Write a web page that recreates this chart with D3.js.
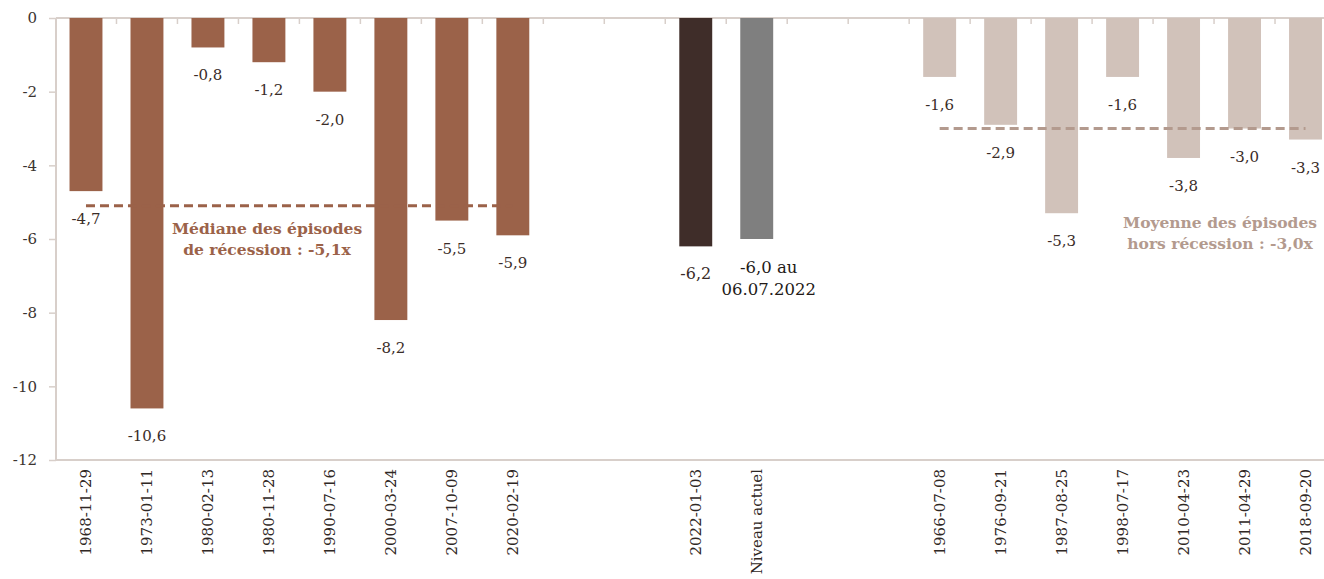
<!DOCTYPE html>
<html>
<head>
<meta charset="utf-8">
<script src="https://cdn.jsdelivr.net/npm/d3@7"></script>
<style>
  body { margin: 0; background: #fff; }
</style>
</head>
<body>
<div id="chart"></div>
<script>
// episodes de recession
var recessionDates = ["1968-11-29", "1973-01-11", "1980-02-13", "1980-11-28", "1990-07-16", "2000-03-24", "2007-10-09", "2020-02-19"];
var recessionValues = [-4.7, -10.6, -0.8, -1.2, -2.0, -8.2, -5.5, -5.9];

// episode actuel
var currentLabels = ["2022-01-03", "Niveau actuel"];
var currentValues = [-6.2, -6.0];

// episodes hors recession
var otherDates = ["1966-07-08", "1976-09-21", "1987-08-25", "1998-07-17", "2010-04-23", "2011-04-29", "2018-09-20"];
var otherValues = [-1.6, -2.9, -5.3, -1.6, -3.8, -3.0, -3.3];

var medianRecession = -5.1;
var meanOther = -3.0;
var yTicks = [0, -2, -4, -6, -8, -10, -12];

var width = 1324,
    height = 579;

var font = "DejaVu Serif";

var colRecession = "#9b6249",
    colCurrent = "#3f2d29",
    colNow = "#7f7f7f",
    colOther = "#d1c2ba",
    colMeanLine = "#b39a8e",
    colAxis = "#d8cfca",
    colText = "#3a2c28";

var gaps = ["gap1", "gap2", "gap3", "gap4"];
var domain = recessionDates.concat([gaps[0], gaps[1]], currentLabels, [gaps[2], gaps[3]], otherDates);

var bars = [];
recessionDates.forEach(function (d, i) { bars.push({ key: d, value: recessionValues[i], color: colRecession }); });
currentLabels.forEach(function (d, i) { bars.push({ key: d, value: currentValues[i], color: i == 0 ? colCurrent : colNow, current: true }); });
otherDates.forEach(function (d, i) { bars.push({ key: d, value: otherValues[i], color: colOther }); });

var x = d3.scaleBand()
    .domain(domain)
    .range([55.5, 1336])
    .paddingInner(0.46)
    .paddingOuter(0.23);

var y = d3.scaleLinear()
    .domain([0, -12])
    .range([18, 460]);

var fmt = function (v) { return d3.format(".1f")(v).replace(".", ",").replace("−", "-"); };

var svg = d3.select("#chart")
    .append("svg")
    .attr("width", width)
    .attr("height", height)
    .attr("font-family", font);

// axis lines
svg.append("line")
    .attr("x1", 56).attr("x2", width)
    .attr("y1", y(0)).attr("y2", y(0))
    .style("stroke", colAxis).style("stroke-width", 2);
svg.append("line")
    .attr("x1", 56).attr("x2", width)
    .attr("y1", y(-12)).attr("y2", y(-12))
    .style("stroke", colAxis).style("stroke-width", 2);
svg.append("line")
    .attr("x1", 56).attr("x2", 56)
    .attr("y1", y(0)).attr("y2", y(-12))
    .style("stroke", colAxis).style("stroke-width", 2);

// category tick marks at slot boundaries
var step = x.step();
svg.append("g").selectAll("line")
    .data(d3.range(1, domain.length))
    .enter().append("line")
      .attr("x1", function (i) { return x.range()[0] + i * step; })
      .attr("x2", function (i) { return x.range()[0] + i * step; })
      .attr("y1", y(0))
      .attr("y2", y(0) + 6)
      .style("stroke", colAxis).style("stroke-width", 1.5);

// y axis
var yAxis = svg.append("g")
    .attr("transform", "translate(56,0)")
    .call(d3.axisLeft(y).tickValues(yTicks).tickSize(7).tickPadding(12)
        .tickFormat(function (d) { return d3.format("d")(d).replace("−", "-"); }));
yAxis.attr("font-family", font).attr("font-size", 15);
yAxis.select(".domain").remove();
yAxis.selectAll("line").style("stroke", colAxis).style("stroke-width", 1.5);
yAxis.selectAll("text").style("fill", "#3b3431");

// bars
svg.append("g").selectAll("rect")
    .data(bars)
    .enter().append("rect")
      .attr("x", function (d) { return x(d.key); })
      .attr("y", y(0))
      .attr("width", x.bandwidth())
      .attr("height", function (d) { return y(d.value) - y(0); })
      .style("fill", function (d) { return d.color; });

// reference lines
svg.append("line")
    .attr("x1", x(recessionDates[0]) + x.bandwidth() / 2)
    .attr("x2", x(recessionDates[recessionDates.length - 1]) + x.bandwidth() / 2)
    .attr("y1", y(medianRecession)).attr("y2", y(medianRecession))
    .style("stroke", colRecession).style("stroke-width", 3)
    .style("stroke-dasharray", "9,5");
svg.append("line")
    .attr("x1", x(otherDates[0]) + x.bandwidth() / 2)
    .attr("x2", x(otherDates[otherDates.length - 1]) + x.bandwidth() / 2)
    .attr("y1", y(meanOther)).attr("y2", y(meanOther))
    .style("stroke", colMeanLine).style("stroke-width", 3)
    .style("stroke-dasharray", "9,5");

// value labels
svg.append("g").selectAll("text")
    .data(bars.filter(function (d) { return d.key != "Niveau actuel"; }))
    .enter().append("text")
      .attr("x", function (d) { return x(d.key) + x.bandwidth() / 2; })
      .attr("y", function (d) { return y(d.value) + 33; })
      .attr("text-anchor", "middle")
      .attr("font-size", function (d) { return d.current ? 16 : 15; })
      .style("fill", colText)
      .text(function (d) { return fmt(d.value); });

var nowX = x("Niveau actuel") + x.bandwidth() / 2 + 12;
var nowLabel = svg.append("text")
    .attr("text-anchor", "middle")
    .attr("font-size", 16.5)
    .style("fill", "#231a17");
nowLabel.append("tspan").attr("x", nowX).attr("y", y(currentValues[1]) + 34).text(fmt(currentValues[1]) + " au");
nowLabel.append("tspan").attr("x", nowX).attr("dy", 22).text("06.07.2022");

// annotations
var medNote = svg.append("text")
    .attr("text-anchor", "middle")
    .attr("font-size", 15.5)
    .attr("font-weight", "bold")
    .style("fill", colRecession);
medNote.append("tspan").attr("x", 267).attr("y", 234).text("Médiane des épisodes");
medNote.append("tspan").attr("x", 267).attr("dy", 21).text("de récession : " + fmt(medianRecession) + "x");

var meanNote = svg.append("text")
    .attr("text-anchor", "middle")
    .attr("font-size", 15.5)
    .attr("font-weight", "bold")
    .style("fill", colMeanLine);
meanNote.append("tspan").attr("x", 1220).attr("y", 228).text("Moyenne des épisodes");
meanNote.append("tspan").attr("x", 1220).attr("dy", 21).text("hors récession : " + fmt(meanOther) + "x");

// category labels
svg.append("g").selectAll("text")
    .data(domain.filter(function (d) { return gaps.indexOf(d) < 0; }))
    .enter().append("text")
      .attr("transform", function (d) { return "translate(" + (x(d) + x.bandwidth() / 2) + "," + (y(-12) + 9) + ") rotate(-90)"; })
      .attr("dy", "0.35em")
      .attr("text-anchor", "end")
      .attr("font-size", 15)
      .style("fill", "#2f2724")
      .text(function (d) { return d; });
</script>
</body>
</html>
